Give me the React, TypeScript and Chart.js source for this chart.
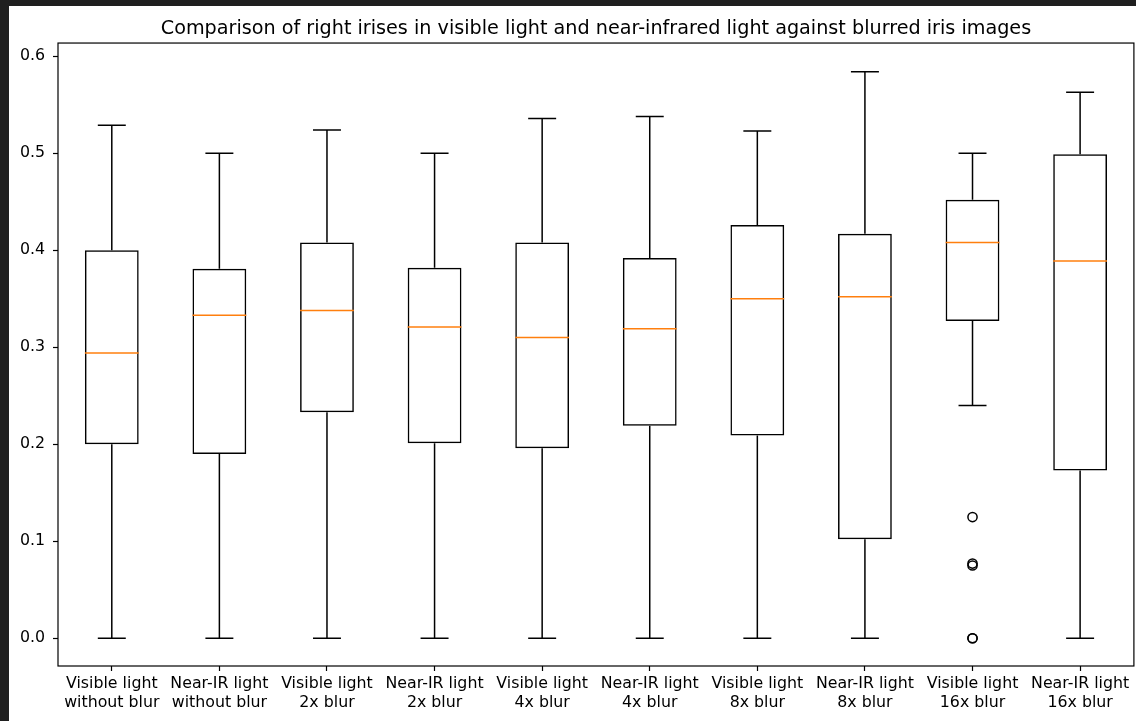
import React, { useEffect, useRef } from "react";
import { Chart, registerables } from "chart.js";

Chart.register(...registerables);

const categories: string[][] = [
  ["Visible light", "without blur"],
  ["Near-IR light", "without blur"],
  ["Visible light", "2x blur"],
  ["Near-IR light", "2x blur"],
  ["Visible light", "4x blur"],
  ["Near-IR light", "4x blur"],
  ["Visible light", "8x blur"],
  ["Near-IR light", "8x blur"],
  ["Visible light", "16x blur"],
  ["Near-IR light", "16x blur"],
];

const whiskerLow = [0, 0, 0, 0, 0, 0, 0, 0, 0.24, 0];
const q1 = [0.2, 0.19, 0.233, 0.201, 0.196, 0.219, 0.209, 0.102, 0.327, 0.173];
const median = [0.294, 0.333, 0.338, 0.321, 0.31, 0.319, 0.35, 0.352, 0.408, 0.389];
const q3 = [0.4, 0.381, 0.408, 0.382, 0.408, 0.392, 0.426, 0.417, 0.452, 0.499];
const whiskerHigh = [0.529, 0.5, 0.524, 0.5, 0.536, 0.538, 0.523, 0.584, 0.5, 0.563];

const outlierCategory = [8, 8, 8, 8, 8];
const outlierValues = [0.125, 0.077, 0.075, 0.0, 0.0];

const yTicks = [0, 0.1, 0.2, 0.3, 0.4, 0.5, 0.6];
const yMin = -0.0286;
const yMax = 0.6137;

const title =
  "Comparison of right irises in visible light and near-infrared light against blurred iris images";

const FONT = "'DejaVu Sans', sans-serif";

const boxPlugin = {
  id: "boxWhiskers",
  afterDatasetsDraw(chart: any) {
    const { ctx, chartArea, scales } = chart;
    const xs = scales.x;
    const ys = scales.y;
    const cw = xs.getPixelForValue(1) - xs.getPixelForValue(0);
    ctx.save();
    ctx.lineCap = "butt";
    for (let i = 0; i < categories.length; i++) {
      const cx = xs.getPixelForValue(i);
      const capHalf = cw * 0.13;
      const boxHalf = cw * 0.25;
      ctx.strokeStyle = "#000";
      ctx.lineWidth = 1.5;
      ctx.beginPath();
      ctx.moveTo(cx, ys.getPixelForValue(q3[i]));
      ctx.lineTo(cx, ys.getPixelForValue(whiskerHigh[i]));
      ctx.moveTo(cx, ys.getPixelForValue(q1[i]));
      ctx.lineTo(cx, ys.getPixelForValue(whiskerLow[i]));
      const yh = ys.getPixelForValue(whiskerHigh[i]);
      const yl = ys.getPixelForValue(whiskerLow[i]);
      ctx.moveTo(cx - capHalf, yh);
      ctx.lineTo(cx + capHalf, yh);
      ctx.moveTo(cx - capHalf, yl);
      ctx.lineTo(cx + capHalf, yl);
      ctx.stroke();
      ctx.strokeStyle = "#ff7f0e";
      ctx.lineWidth = 1.5;
      const ym = ys.getPixelForValue(median[i]);
      ctx.beginPath();
      ctx.moveTo(cx - boxHalf, ym);
      ctx.lineTo(cx + boxHalf, ym);
      ctx.stroke();
    }
    ctx.strokeStyle = "#000";
    ctx.lineWidth = 1.2;
    ctx.strokeRect(
      chartArea.left,
      chartArea.top,
      chartArea.right - chartArea.left,
      chartArea.bottom - chartArea.top
    );
    ctx.restore();
  },
};

const bgPlugin = {
  id: "whiteBg",
  beforeDraw(chart: any) {
    const { ctx, width, height } = chart;
    ctx.save();
    ctx.fillStyle = "#fff";
    ctx.fillRect(0, 0, width, height);
    ctx.restore();
  },
};

export default function App() {
  const ref = useRef<HTMLCanvasElement | null>(null);

  useEffect(() => {
    if (!ref.current) return;
    const chart = new Chart(ref.current, {
      type: "bar",
      data: {
        labels: categories,
        datasets: [
          {
            type: "bar",
            data: q1.map((v, i) => [v, q3[i]]) as any,
            backgroundColor: "rgba(255,255,255,0)",
            borderColor: "#000",
            borderWidth: 1.5,
            borderSkipped: false,
            barPercentage: 0.5,
            categoryPercentage: 1,
          } as any,
          {
            type: "scatter",
            data: outlierValues.map((v, i) => ({ x: categories[outlierCategory[i]], y: v })),
            pointStyle: "circle",
            pointRadius: 4.6,
            pointBorderWidth: 1.5,
            pointBorderColor: "#000",
            pointBackgroundColor: "rgba(0,0,0,0)",
            showLine: false,
          } as any,
        ],
      },
      options: {
        responsive: false,
        animation: false,
        devicePixelRatio: 1,
        layout: { padding: { left: 0, right: 2, top: 0, bottom: 0 } },
        plugins: {
          legend: { display: false },
          tooltip: { enabled: false },
          title: {
            display: true,
            text: title,
            fullSize: false,
            color: "#000",
            font: { family: FONT, size: 19.2, weight: "normal" },
            padding: { top: 11.5, bottom: 2.5 },
          } as any,
        },
        scales: {
          x: {
            type: "category",
            offset: true,
            grid: {
              offset: false,
              drawOnChartArea: false,
              drawTicks: true,
              tickLength: 5,
              tickColor: "#000",
              tickWidth: 1.2,
            },
            border: { display: false },
            ticks: {
              color: "#000",
              font: { family: FONT, size: 15.8 },
              padding: 3,
              maxRotation: 0,
              autoSkip: false,
            },
            afterFit(scale: any) {
              scale.height = 55;
              scale.paddingLeft = 0;
              scale.paddingRight = 0;
            },
          },
          y: {
            type: "linear",
            min: yMin,
            max: yMax,
            grid: {
              drawOnChartArea: false,
              drawTicks: true,
              tickLength: 5,
              tickColor: "#000",
              tickWidth: 1.2,
            },
            border: { display: false },
            ticks: {
              color: "#000",
              font: { family: FONT, size: 15.8 },
              padding: 8,
              includeBounds: false,
              stepSize: 0.1,
              callback: (v: any) => Number(v).toFixed(1),
            },
            afterBuildTicks(scale: any) {
              scale.ticks = yTicks.map((v) => ({ value: v }));
            },
            afterFit(scale: any) {
              scale.width = 49;
            },
          },
        },
      },
      plugins: [bgPlugin, boxPlugin],
    });
    return () => chart.destroy();
  }, []);

  return (
    <div
      style={{
        position: "fixed",
        left: 0,
        top: 0,
        width: 1136,
        height: 721,
        overflow: "hidden",
        background: "#1f1f1f",
      }}
    >
      <div style={{ position: "absolute", left: 9, top: 6, width: 1131, height: 715, background: "#fff" }}>
        <canvas ref={ref} width={1131} height={715} style={{ display: "block" }} />
      </div>
    </div>
  );
}
